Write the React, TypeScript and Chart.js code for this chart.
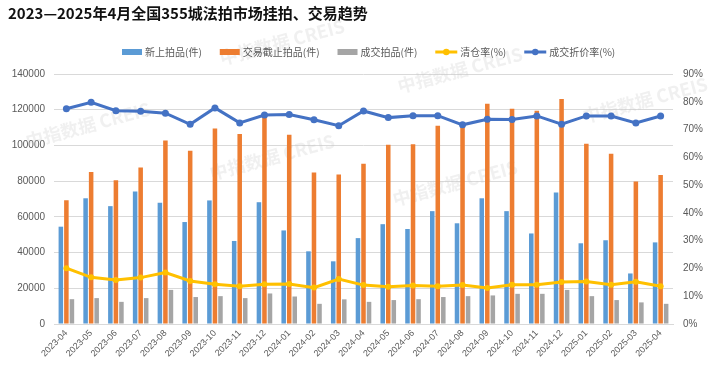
import { useEffect, useRef } from "react";
import { Chart, registerables } from "chart.js";

Chart.register(...registerables);

const titleText = "2023—2025年4月全国355城法拍市场挂拍、交易趋势";

const months = [
  "2023-04", "2023-05", "2023-06", "2023-07", "2023-08", "2023-09", "2023-10", "2023-11", "2023-12",
  "2024-01", "2024-02", "2024-03", "2024-04", "2024-05", "2024-06", "2024-07", "2024-08", "2024-09",
  "2024-10", "2024-11", "2024-12", "2025-01", "2025-02", "2025-03", "2025-04",
];

const newListings = [
  54500, 70400, 66000, 74200, 67900, 57100, 69200, 46500, 68200,
  52400, 40700, 35100, 48100, 55900, 53200, 63200, 56400, 70400,
  63200, 50700, 73600, 45200, 46900, 28300, 45700,
];

const closedAuctions = [
  69300, 85100, 80500, 87600, 102800, 97000, 109500, 106400, 117500,
  106000, 84900, 83700, 89800, 100400, 100600, 111000, 111000, 123400,
  120600, 119400, 126000, 101000, 95400, 79800, 83500,
];

const soldItems = [
  13900, 14500, 12400, 14500, 19100, 15100, 15600, 14500, 17100,
  15400, 11300, 13800, 12400, 13400, 13900, 15100, 15600, 16000,
  16900, 16900, 19100, 15600, 13400, 12100, 11300,
];

const clearanceRate = [
  20.1, 16.8, 15.8, 16.7, 18.5, 15.5, 14.3, 13.6, 14.3,
  14.4, 13.1, 16.2, 14.0, 13.4, 13.9, 13.6, 14.0, 13.0,
  14.1, 14.1, 15.1, 15.3, 14.1, 15.2, 13.6,
];

const discountRate = [
  77.5, 79.8, 76.8, 76.6, 75.9, 71.9, 77.8, 72.4, 75.2,
  75.4, 73.5, 71.4, 76.7, 74.3, 75.0, 75.0, 71.7, 73.7,
  73.6, 74.9, 71.9, 74.9, 74.9, 72.4, 74.9,
];

const watermarkText = "中指数据 CREIS";

const FONT = "'Liberation Sans', 'Noto Sans CJK SC', sans-serif";
const CJK = "'Noto Sans CJK SC', 'Liberation Sans', sans-serif";

export default function App() {
  const ref = useRef<HTMLCanvasElement>(null);

  useEffect(() => {
    const canvas = ref.current;
    if (!canvas) return;

    const titlePlugin = {
      id: "titleDraw",
      afterDraw(chart: any) {
        const c = chart.ctx;
        c.save();
        c.fillStyle = "#111111";
        c.font = `bold 15px ${CJK}`;
        c.textBaseline = "middle";
        c.textAlign = "left";
        c.fillText(titleText, 8, 13);
        c.restore();
      },
    };

    const watermarkPlugin = {
      id: "watermark",
      beforeDatasetsDraw(chart: any) {
        const c = chart.ctx;
        const spots = [
          [88, 125], [282, 42], [272, 157], [460, 70], [645, 100], [455, 183],
        ];
        c.save();
        c.fillStyle = "rgba(200,200,200,0.28)";
        c.font = `bold 18px ${CJK}`;
        c.textAlign = "center";
        c.textBaseline = "middle";
        for (const [x, y] of spots) {
          c.save();
          c.translate(x, y);
          c.rotate((-15 * Math.PI) / 180);
          c.fillText(watermarkText, 0, 0);
          c.restore();
        }
        c.restore();
      },
    };

    const legendPlugin = {
      id: "customLegend",
      afterDraw(chart: any) {
        const c = chart.ctx;
        const order = [2, 3, 4, 0, 1];
        let x = 122;
        const y = 52;
        c.save();
        c.font = `10px ${CJK}`;
        c.textBaseline = "middle";
        c.textAlign = "left";
        for (const idx of order) {
          const ds = chart.data.datasets[idx];
          const isLine = ds.type === "line";
          const col = isLine ? ds.borderColor : ds.backgroundColor;
          const symW = isLine ? 22 : 20;
          if (isLine) {
            c.strokeStyle = col;
            c.lineWidth = 3;
            c.beginPath();
            c.moveTo(x, y);
            c.lineTo(x + symW, y);
            c.stroke();
            c.fillStyle = col;
            c.beginPath();
            c.arc(x + symW / 2, y, 3.2, 0, Math.PI * 2);
            c.fill();
          } else {
            c.fillStyle = col;
            c.fillRect(x, y - 3, symW, 6);
          }
          x += symW + 3;
          c.fillStyle = "#595959";
          c.fillText(ds.label, x, y);
          x += c.measureText(ds.label).width + 18;
        }
        c.restore();
      },
    };

    const chart = new Chart(canvas, {
      type: "bar",
      data: {
        labels: months,
        datasets: [
          {
            type: "line",
            label: "清仓率(%)",
            data: clearanceRate,
            yAxisID: "y1",
            borderColor: "#FFC000",
            backgroundColor: "#FFC000",
            borderWidth: 3,
            pointRadius: 3,
            pointBorderWidth: 0,
            tension: 0,
            order: 0,
          },
          {
            type: "line",
            label: "成交折价率(%)",
            data: discountRate,
            yAxisID: "y1",
            borderColor: "#4472C4",
            backgroundColor: "#4472C4",
            borderWidth: 3,
            pointRadius: 3.5,
            pointBorderWidth: 0,
            tension: 0,
            order: 0,
          },
          {
            type: "bar",
            label: "新上拍品(件)",
            data: newListings,
            yAxisID: "y",
            backgroundColor: "#5B9BD5",
            categoryPercentage: 0.67,
            barPercentage: 0.82,
            order: 1,
          },
          {
            type: "bar",
            label: "交易截止拍品(件)",
            data: closedAuctions,
            yAxisID: "y",
            backgroundColor: "#ED7D31",
            categoryPercentage: 0.67,
            barPercentage: 0.82,
            order: 1,
          },
          {
            type: "bar",
            label: "成交拍品(件)",
            data: soldItems,
            yAxisID: "y",
            backgroundColor: "#A5A5A5",
            categoryPercentage: 0.67,
            barPercentage: 0.82,
            order: 1,
          },
        ] as any,
      },
      options: {
        responsive: false,
        animation: false,
        layout: { padding: { top: 74, left: 0, right: 0, bottom: 0 } },
        plugins: {
          legend: { display: false },
          tooltip: { enabled: false },
          title: { display: false },
        },
        scales: {
          x: {
            grid: { display: false, drawTicks: false },
            border: { display: true, color: "#D9D9D9", width: 1 },
            ticks: {
              color: "#595959",
              font: { size: 9, family: FONT },
              minRotation: 45,
              maxRotation: 45,
              autoSkip: false,
              padding: 4,
            },
            afterFit(scale: any) {
              scale.height = 48;
            },
          },
          y: {
            position: "left",
            min: 0,
            max: 140000,
            ticks: {
              stepSize: 20000,
              color: "#595959",
              font: { size: 10, family: FONT },
              padding: 9,
              callback: (v: any) => String(v),
            },
            grid: { color: "#D9D9D9", drawTicks: false, lineWidth: 1 },
            border: { display: false },
            afterFit(scale: any) {
              scale.width = 54;
            },
          },
          y1: {
            position: "right",
            min: 0,
            max: 90,
            ticks: {
              stepSize: 10,
              color: "#595959",
              font: { size: 10, family: FONT },
              padding: 10,
              callback: (v: any) => `${v}%`,
            },
            grid: { display: false, drawTicks: false },
            border: { display: false },
            afterFit(scale: any) {
              scale.width = 47;
            },
          },
        },
      },
      plugins: [watermarkPlugin, legendPlugin, titlePlugin],
    });

    return () => chart.destroy();
  }, []);

  return (
    <div style={{ position: "fixed", left: 0, top: 0, width: 720, height: 372, background: "#ffffff" }}>
      <canvas ref={ref} width={720} height={372} style={{ width: 720, height: 372, display: "block" }} />
    </div>
  );
}
